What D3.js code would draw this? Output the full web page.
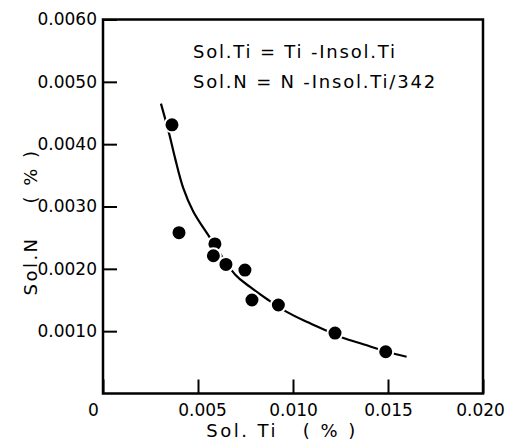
<!DOCTYPE html>
<html>
<head>
<meta charset="utf-8">
<style>
  body {margin: 0; background: white;}
  text {font-family: "DejaVu Sans", sans-serif; fill: black;}
</style>
</head>
<body>
<svg id="svg" width="505" height="446"></svg>
<script src="https://d3js.org/d3.v7.min.js"></script>
<script>
// measured points
var solTi = [0.00363, 0.0040, 0.00589, 0.00581, 0.00647, 0.00747, 0.00784, 0.00923, 0.01221, 0.01488];
var solN  = [0.00431, 0.00258, 0.00240, 0.00221, 0.00207, 0.00198, 0.00150, 0.00142, 0.00097, 0.00067];

// hand drawn fitted curve
var curveTi = [0.00305, 0.00349, 0.00379, 0.00423, 0.00475, 0.00554, 0.00695, 0.00774, 0.00870, 0.00967, 0.01072, 0.01168, 0.01265, 0.01370, 0.01493, 0.01598];
var curveN  = [0.00465, 0.00416, 0.00378, 0.00329, 0.00292, 0.00254, 0.00191, 0.00171, 0.00150, 0.00131, 0.00115, 0.00102, 0.00089, 0.00079, 0.00067, 0.00059];

var xTicks = [0, 0.005, 0.010, 0.015, 0.020];
var yTicks = [0.0010, 0.0020, 0.0030, 0.0040, 0.0050, 0.0060];
var notes = ["Sol.Ti = Ti -Insol.Ti", "Sol.N = N -Insol.Ti/342"];

var svg = d3.select("#svg");
var mLeft = 103, mRight = 483, mTop = 19.5, mBottom = 393.5;

var x = d3.scaleLinear().domain([0, 0.020]).range([mLeft, mRight]);
var y = d3.scaleLinear().domain([0, 0.0060]).range([mBottom, mTop]);

// x axis (ticks inside)
var xAxis = svg.append("g")
  .attr("transform", "translate(0," + mBottom + ")")
  .call(d3.axisBottom(x).tickValues(xTicks).tickSizeInner(-14).tickSizeOuter(0)
    .tickFormat(function(d){ return d == 0 ? "0" : d3.format(".3f")(d); }));
xAxis.selectAll("line").attr("stroke-width", 2);
xAxis.selectAll("text").attr("font-size", 17).attr("y", 10).attr("dy", "0.71em")
  .attr("dx", function(d){ return d == 0 ? -10 : (d == 0.005 ? 4 : (d == 0.020 ? -3 : 0)); });
xAxis.select(".domain").remove();

// y axis
var yAxis = svg.append("g")
  .attr("transform", "translate(" + mLeft + ",0)")
  .call(d3.axisLeft(y).tickValues(yTicks).tickSizeInner(-14).tickSizeOuter(0)
    .tickFormat(d3.format(".4f")));
yAxis.selectAll("line").attr("stroke-width", 2);
yAxis.selectAll("text").attr("font-size", 17).attr("x", -6);
yAxis.select(".domain").remove();

// frame
svg.append("rect")
  .attr("x", mLeft).attr("y", mTop)
  .attr("width", mRight - mLeft).attr("height", mBottom - mTop)
  .attr("fill", "none").attr("stroke", "black").attr("stroke-width", 2.5);

// curve
var line = d3.line()
  .x(function(d, i){ return x(curveTi[i]); })
  .y(function(d, i){ return y(curveN[i]); })
  .curve(d3.curveCatmullRom);
svg.append("path")
  .attr("d", line(curveTi))
  .attr("fill", "none").attr("stroke", "black").attr("stroke-width", 2.2);

// points
svg.selectAll("circle.pt").data(solTi).enter()
  .append("circle")
  .attr("class", "pt")
  .attr("cx", function(d){ return x(d); })
  .attr("cy", function(d, i){ return y(solN[i]); })
  .attr("r", 7.5)
  .attr("fill", "black")
  .attr("stroke", "white").attr("stroke-width", 2);

// notes
svg.selectAll("text.note").data(notes).enter()
  .append("text")
  .attr("class", "note")
  .attr("x", 193)
  .attr("y", function(d, i){ return 58 + i * 30; })
  .attr("font-size", 18)
  .attr("letter-spacing", 1.8)
  .attr("xml:space", "preserve")
  .text(function(d){ return d; });

// axis titles
svg.append("text")
  .attr("x", 282).attr("y", 437)
  .attr("text-anchor", "middle").attr("font-size", 18)
  .attr("letter-spacing", 2.5)
  .attr("xml:space", "preserve")
  .text("Sol. Ti   ( % )");

svg.append("text")
  .attr("transform", "translate(37,222) rotate(-90)")
  .attr("text-anchor", "middle").attr("font-size", 18)
  .attr("letter-spacing", 2.5)
  .attr("xml:space", "preserve")
  .text("Sol.N    ( % )");
</script>
</body>
</html>
